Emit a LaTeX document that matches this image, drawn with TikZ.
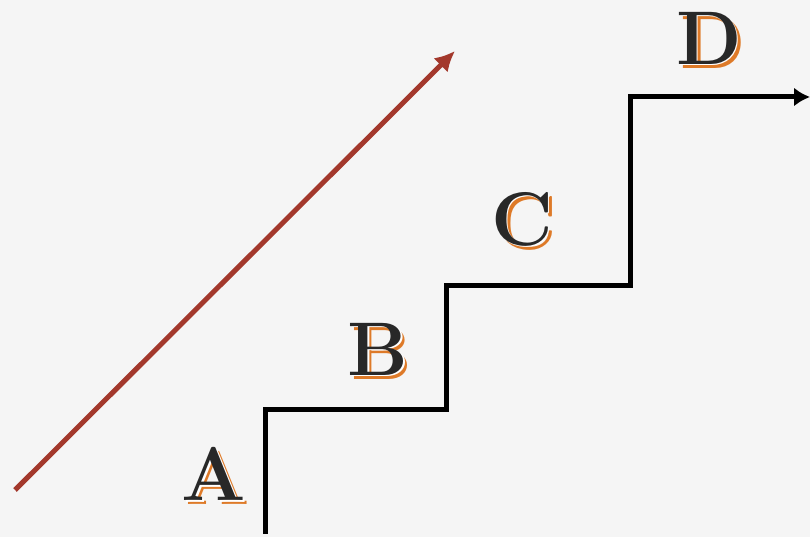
\documentclass[tikz,border=0pt]{standalone}
\usepackage{xcolor}
\usepackage{tikz}
\usetikzlibrary{arrows.meta}

\definecolor{paper}{RGB}{245,245,245}
\definecolor{ink}{RGB}{40,40,40}
\definecolor{rust}{RGB}{163,56,44}
\definecolor{amber}{RGB}{222,122,40}

\tikzset{
  letter/.style={font=\fontsize{76}{80}\selectfont\bfseries, inner sep=0pt, text=ink},
  stair/.style={line width=5pt, draw=black},
  rise/.style={line width=5pt, draw=rust}
}
\newcommand{\stepletter}[3]{%
  \node[letter, text=amber, xshift=4pt, yshift=-4pt] at #2 {#3};
  \node[letter, text=white, xshift=1.6pt, yshift=-1.6pt] at #2 {#3};
  \node[letter] (#1) at #2 {#3};
}

\begin{document}
\begin{tikzpicture}[x=1pt,y=1pt]
  \fill[paper] (0,0) rectangle (810,537);
  \useasboundingbox (0,0) rectangle (810,537);

  \coordinate (s0) at (265,3);
  \coordinate (s1) at (265,127);
  \coordinate (s2) at (446,127);
  \coordinate (s3) at (446,251);
  \coordinate (s4) at (630,251);
  \coordinate (s5) at (630,440);
  \coordinate (s6) at (810,440);
  \draw[stair,-{Latex[length=16pt,width=19pt]}] (s0) -- (s1) -- (s2) -- (s3) -- (s4) -- (s5) -- (s6);

  \coordinate (low) at (15,47);
  \coordinate (high) at (455,486);
  \draw[rise,-{Latex[length=20pt,width=20pt]}] (low) -- (high);

  \stepletter{A}{(214,63)}{A}
  \stepletter{B}{(378,188)}{B}
  \stepletter{C}{(522,318)}{C}
  \stepletter{D}{(709,499)}{D}
\end{tikzpicture}
\end{document}
